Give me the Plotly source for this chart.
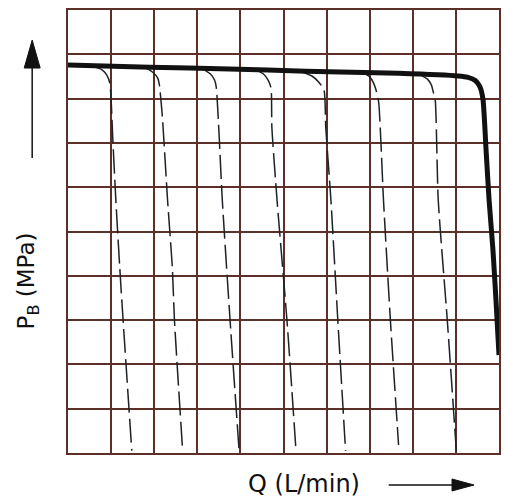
import plotly.graph_objects as go

# ---- data (in grid units) ----
main_q = [0.0, 1.89, 3.74, 5.52, 7.67, 9.05, 9.28, 9.45, 9.56, 9.63, 9.70, 9.77, 9.86, 9.93, 10.0]
main_p = [8.76, 8.71, 8.67, 8.62, 8.57, 8.51, 8.48, 8.41, 8.26, 7.97, 6.84, 5.71, 4.58, 3.45, 2.21]

dash_q = [
    [0.62, 0.79, 0.90, 0.97, 1.04, 1.11, 1.20, 1.27, 1.48],
    [1.82, 1.96, 2.08, 2.12, 2.19, 2.31, 2.42, 2.47, 2.66],
    [3.16, 3.30, 3.40, 3.44, 3.58, 3.76, 3.97],
    [4.36, 4.53, 4.64, 4.71, 4.73, 4.85, 5.08, 5.29],
    [5.43, 5.66, 5.82, 5.94, 5.98, 6.10, 6.26, 6.44],
    [6.86, 7.00, 7.09, 7.16, 7.21, 7.32, 7.48, 7.67],
    [8.18, 8.34, 8.43, 8.48, 8.52, 8.59, 8.80, 9.01],
]
dash_p = [
    [8.71, 8.65, 8.53, 8.35, 7.07, 5.71, 4.20, 3.12, 0.05],
    [8.69, 8.60, 8.47, 8.31, 7.58, 5.71, 4.20, 3.00, 0.05],
    [8.65, 8.56, 8.42, 8.26, 5.71, 3.00, 0.05],
    [8.65, 8.56, 8.42, 8.24, 7.36, 5.71, 3.00, 0.05],
    [8.60, 8.51, 8.37, 8.19, 7.36, 5.71, 3.00, 0.05],
    [8.58, 8.49, 8.35, 8.15, 7.90, 5.71, 3.00, 0.18],
    [8.53, 8.44, 8.31, 8.13, 7.97, 5.71, 3.00, 0.05],
]

x_title = "Q (L/min)"
y_title = "P<sub>B</sub> (MPa)"

GRID = "#5c3028"
INK = "#111111"

fig = go.Figure()
for qs, ps in zip(dash_q, dash_p):
    fig.add_trace(go.Scatter(x=qs, y=ps, mode="lines",
                             line=dict(color="#1c2226", width=1.5, dash="24px,6px", shape="spline", smoothing=0.6),
                             hoverinfo="skip", showlegend=False))
fig.add_trace(go.Scatter(x=main_q, y=main_p, mode="lines",
                         line=dict(color=INK, width=5, shape="spline", smoothing=0.5),
                         hoverinfo="skip", showlegend=False))

axis_common = dict(range=[0, 10], dtick=1, tick0=0, showgrid=True, gridcolor=GRID, gridwidth=1.5,
                   showline=True, linecolor=GRID, linewidth=1.5, mirror=True,
                   showticklabels=False, ticks="", zeroline=False, fixedrange=True)

fig.update_layout(
    width=505, height=501,
    margin=dict(l=68, r=4, t=10, b=48),
    paper_bgcolor="white", plot_bgcolor="white",
    xaxis=axis_common, yaxis=axis_common,
    font=dict(family="DejaVu Sans", color=INK),
)

# axis titles as annotations
fig.add_annotation(text=x_title, xref="paper", yref="paper", x=0.547, y=-0.070,
                   xanchor="center", yanchor="middle", showarrow=False,
                   font=dict(size=24, family="DejaVu Sans", color=INK))
fig.add_annotation(text=y_title, xref="paper", yref="paper", x=-0.092, y=0.388,
                   xanchor="center", yanchor="middle", showarrow=False, textangle=-90,
                   font=dict(size=23, family="DejaVu Sans", color=INK))

# arrows (decoration)
fig.add_shape(type="line", xref="paper", yref="paper", x0=-0.0831, x1=-0.0831, y0=0.666, y1=0.88,
              line=dict(color=INK, width=1.5))
fig.add_shape(type="path", xref="paper", yref="paper",
              path="M -0.1016 0.869 L -0.0646 0.869 L -0.0831 0.932 Z",
              fillcolor=INK, line=dict(color=INK, width=1))
fig.add_shape(type="line", xref="paper", yref="paper", x0=0.744, x1=0.895, y0=-0.0722, y1=-0.0722,
              line=dict(color=INK, width=1.5))
fig.add_shape(type="path", xref="paper", yref="paper",
              path="M 0.891 -0.0587 L 0.891 -0.0857 L 0.942 -0.0722 Z",
              fillcolor=INK, line=dict(color=INK, width=1))

fig.write_html("out.html")
